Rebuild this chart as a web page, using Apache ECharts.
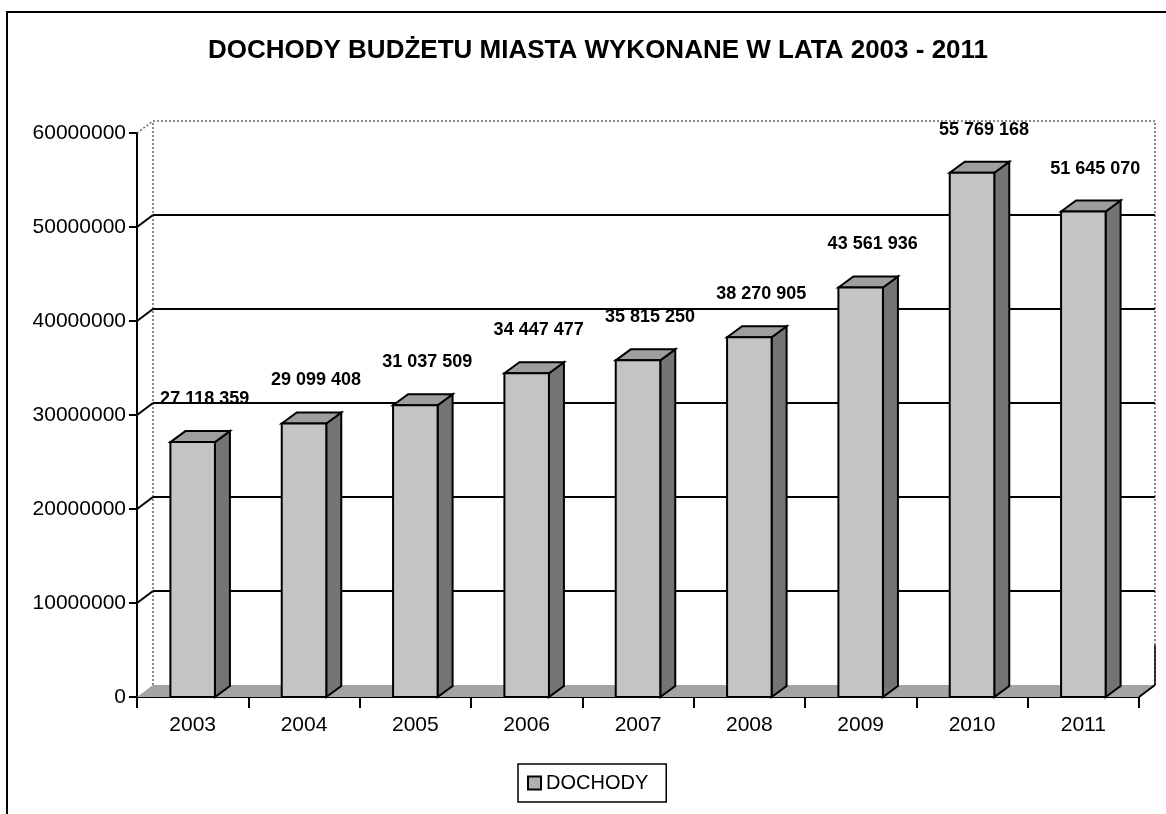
<!DOCTYPE html>
<html><head><meta charset="utf-8">
<script src="https://cdn.jsdelivr.net/npm/echarts@6/dist/echarts.min.js"></script>
<style>html,body{margin:0;padding:0;background:#fff}#c{width:1166px;height:814px}</style>
</head><body><div id="c"></div>
<script>
const titleText = 'DOCHODY BUDŻETU MIASTA WYKONANE W LATA 2003 - 2011';
const seriesName = 'DOCHODY';
const categories = ['2003', '2004', '2005', '2006', '2007', '2008', '2009', '2010', '2011'];
const values = [27118359, 29099408, 31037509, 34447477, 35815250, 38270905, 43561936, 55769168, 51645070];
const yTicks = [0, 10000000, 20000000, 30000000, 40000000, 50000000, 60000000];

const FONT = '"Liberation Sans", Arial, sans-serif';
const DX = 15, DY = -11;   // bar depth
const WX = 16, WY = -12;   // wall depth
const C_FRONT = '#c4c4c4', C_SIDE = '#747474', C_TOP = '#9e9e9e', C_FLOOR = '#a4a4a4';

function fmt(v) { return String(v).replace(/\B(?=(\d{3})+(?!\d))/g, ' '); }

function renderWalls(params, api) {
  const cs = params.coordSys;
  const x0 = cs.x, x1 = cs.x + cs.width;
  const y0 = api.coord([0, yTicks[0]])[1];
  const top = api.coord([0, yTicks[yTicks.length - 1]])[1];
  const ch = [];
  ch.push({ type: 'polygon', shape: { points: [[x0, y0], [x1, y0], [x1 + WX, y0 + WY], [x0 + WX, y0 + WY]] },
    style: { fill: C_FLOOR, stroke: null } });
  ch.push({ type: 'polyline', shape: { points: [[x0 + WX, y0 + WY], [x0 + WX, top + WY], [x1 + WX, top + WY], [x1 + WX, y0 + WY]] },
    style: { fill: null, stroke: '#666', lineWidth: 1.5, lineDash: [2, 2] } });
  ch.push({ type: 'line', shape: { x1: x0, y1: top, x2: x0 + WX, y2: top + WY },
    style: { stroke: '#666', lineWidth: 1.5, lineDash: [2, 2] } });
  ch.push({ type: 'line', shape: { x1: x1 + WX, y1: y0 + WY - 40, x2: x1 + WX, y2: y0 + WY },
    style: { stroke: '#000', lineWidth: 1.5 } });
  ch.push({ type: 'line', shape: { x1: x1 + WX, y1: y0 + WY, x2: x1, y2: y0 },
    style: { stroke: '#000', lineWidth: 2 } });
  for (let k = 1; k < yTicks.length - 1; k++) {
    const y = api.coord([0, yTicks[k]])[1];
    ch.push({ type: 'line', shape: { x1: x0 + WX, y1: y + WY, x2: x1 + WX, y2: y + WY },
      style: { stroke: '#000', lineWidth: 2.2 } });
    ch.push({ type: 'line', shape: { x1: x0, y1: y, x2: x0 + WX, y2: y + WY },
      style: { stroke: '#000', lineWidth: 2 } });
  }
  return { type: 'group', children: ch };
}

function renderBar(params, api) {
  const v = api.value(1);
  const p = api.coord([api.value(0), v]);
  const b = api.coord([api.value(0), 0])[1];
  const w = api.size([1, 0])[0] * 0.4;
  const l = p[0] - w / 2, r = p[0] + w / 2, t = p[1];
  const st = { stroke: '#000', lineWidth: 2, lineJoin: 'miter' };
  return { type: 'group', children: [
    { type: 'polygon', shape: { points: [[r, t], [r + DX, t + DY], [r + DX, b + DY], [r, b]] }, style: Object.assign({ fill: C_SIDE }, st) },
    { type: 'polygon', shape: { points: [[l, t], [l + DX, t + DY], [r + DX, t + DY], [r, t]] }, style: Object.assign({ fill: C_TOP }, st) },
    { type: 'rect', shape: { x: l, y: t, width: w, height: b - t }, style: Object.assign({ fill: C_FRONT }, st) },
    { type: 'text', x: p[0] + 12, y: t - 43, style: { text: fmt(v), font: 'bold 18px ' + FONT, fill: '#000', align: 'center', verticalAlign: 'middle' } }
  ] };
}

const chart = echarts.init(document.getElementById('c'), null, { renderer: 'canvas' });
chart.setOption({
  animation: false,
  backgroundColor: '#fff',
  title: { text: titleText, left: 593, textAlign: 'center', top: 33,
    textStyle: { fontFamily: FONT, fontSize: 26, fontWeight: 'bold', color: '#000' } },
  grid: { left: 137, right: 27, top: 133, bottom: 117, containLabel: false, outerBoundsMode: 'none' },
  legend: { data: [seriesName], left: 518, top: 764, orient: 'horizontal',
    padding: [9, 18, 9, 9], borderColor: '#000', borderWidth: 1.5,
    itemWidth: 13, itemHeight: 13, itemGap: 7, icon: 'rect',
    itemStyle: { color: '#b0b0b0', borderColor: '#000', borderWidth: 2 },
    textStyle: { fontFamily: FONT, fontSize: 20, color: '#000' } },
  xAxis: { type: 'category', data: categories, boundaryGap: true,
    axisLine: { show: true, lineStyle: { color: '#000', width: 2 } },
    axisTick: { show: true, length: 11, lineStyle: { color: '#000', width: 2 } },
    axisLabel: { fontFamily: FONT, fontSize: 21, color: '#000', margin: 18, interval: 0 },
    splitLine: { show: false } },
  yAxis: { type: 'value', min: 0, max: 60000000, interval: 10000000,
    axisLine: { show: true, lineStyle: { color: '#000', width: 2 } },
    axisTick: { show: true, length: 8, lineStyle: { color: '#000', width: 2 } },
    axisLabel: { fontFamily: FONT, fontSize: 21, color: '#000', margin: 11, showMinLabel: true, showMaxLabel: true,
      formatter: v => String(v) },
    splitLine: { show: false } },
  graphic: [
    { type: 'line', shape: { x1: 7, y1: 12, x2: 7, y2: 814 }, style: { stroke: '#000', lineWidth: 2 } },
    { type: 'line', shape: { x1: 6, y1: 12, x2: 1166, y2: 12 }, style: { stroke: '#000', lineWidth: 2 } }
  ],
  series: [
    { type: 'custom', name: 'walls', silent: true, z: 1, renderItem: renderWalls, data: [[0, 0]], encode: { x: 0, y: 1 } },
    { type: 'custom', name: seriesName, z: 3, itemStyle: { color: '#b0b0b0' }, renderItem: renderBar,
      data: categories.map((c, i) => [i, values[i]]), encode: { x: 0, y: 1 } }
  ]
});
</script></body></html>
